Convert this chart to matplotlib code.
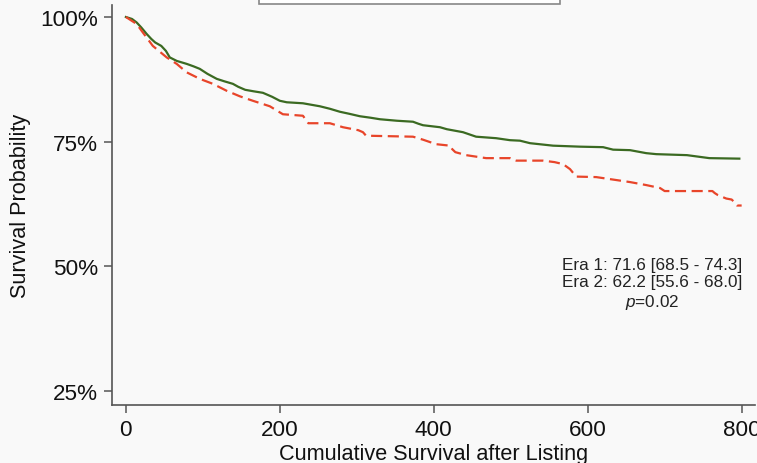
import matplotlib.pyplot as plt
from matplotlib.patches import Rectangle

plt.rcParams["font.family"] = ["Liberation Sans", "DejaVu Sans"]
plt.rcParams["mathtext.fontset"] = "custom"
plt.rcParams["mathtext.rm"] = "Liberation Sans"
plt.rcParams["mathtext.it"] = "Liberation Sans:italic"

# Kaplan-Meier curves (days, survival %)
era1_t = [0, 8, 14, 20, 27, 33, 38, 46, 52, 57, 66, 79, 88, 96, 106, 118, 128,
          139, 146, 155, 166, 178, 190, 200, 209, 230, 252, 265, 278, 290, 304,
          318, 330, 352, 373, 380, 386, 408, 417, 438, 455, 481, 499, 512, 525,
          555, 590, 620, 633, 655, 676, 689, 729, 758, 797]
era1_s = [100, 99.6, 98.9, 97.9, 96.6, 95.6, 94.9, 94.2, 93.2, 91.9, 91.2, 90.6,
          90.1, 89.6, 88.6, 87.6, 87.1, 86.6, 86.0, 85.4, 85.1, 84.8, 84.0, 83.2,
          82.9, 82.7, 82.1, 81.6, 81.0, 80.6, 80.1, 79.8, 79.5, 79.2, 79.0, 78.6,
          78.3, 77.9, 77.5, 76.9, 76.0, 75.7, 75.3, 75.2, 74.7, 74.2, 74.0, 73.9,
          73.4, 73.3, 72.7, 72.5, 72.3, 71.7, 71.6]

era2_t = [0, 14, 22, 35, 53, 66, 79, 96, 113, 131, 148, 165, 187, 204, 230, 237,
          265, 282, 302, 308, 312, 373, 386, 403, 421, 424, 428, 442, 468, 499,
          503, 507, 542, 557, 568, 577, 585, 611, 633, 655, 676, 694, 697, 700,
          762, 765, 769, 780, 787, 791, 794, 800]
era2_s = [100, 98.6, 96.9, 94.2, 91.9, 90.6, 88.9, 87.6, 86.6, 85.2, 84.1, 83.2,
          82.1, 80.5, 80.2, 78.7, 78.7, 77.9, 77.3, 76.9, 76.2, 76.0, 75.4, 74.5,
          74.2, 73.5, 72.9, 72.3, 71.7, 71.7, 71.4, 71.2, 71.2, 70.9, 70.5, 69.5,
          68.0, 67.9, 67.4, 66.9, 66.3, 65.7, 65.4, 65.1, 65.1, 64.7, 64.3, 63.6,
          63.4, 62.8, 62.2, 62.2]

y_ticks = [25, 50, 75, 100]
x_ticks = [0, 200, 400, 600, 800]
note = "Era 1: 71.6 [68.5 - 74.3]\nEra 2: 62.2 [55.6 - 68.0]\n$p$=0.02"

bg = "#f9f9f9"
fig = plt.figure(figsize=(7.57, 4.64), dpi=100, facecolor=bg)
ax = fig.add_axes([0.148, 0.125, 0.849, 0.862], facecolor=bg)

ax.plot(era1_t, era1_s, color="#3b6a22", lw=1.6)
ax.plot(era2_t, era2_s, color="#e8452a", lw=1.6, dashes=(5, 2.5))

ax.set_xlim(-18, 817)
ax.set_ylim(22.2, 102.4)
ax.set_xticks(x_ticks)
ax.set_yticks(y_ticks)
ax.set_yticklabels([f"{v}%" for v in y_ticks])
for side in ("top", "right"):
    ax.spines[side].set_visible(False)
for side in ("left", "bottom"):
    ax.spines[side].set_color("#555555")
    ax.spines[side].set_linewidth(1.2)
ax.tick_params(length=6, width=1.1, color="#555555", labelsize=16.2,
               labelcolor="#111111", pad=4)

ax.set_xlabel("Cumulative Survival after Listing", fontsize=15.6,
              color="#111111", labelpad=2)
ax.set_ylabel("Survival Probability", fontsize=15.6, color="#111111",
              labelpad=7)

ax.text(742 / 757, 1 - 285 / 464, note, transform=fig.transFigure, ha="right",
        va="center", multialignment="center", fontsize=12.3, color="#222222",
        linespacing=1.2)

# remains of the legend box cut off at the top of the picture
fig.patches.append(Rectangle((259 / 757, 1 - 5 / 464), 301 / 757, 0.05,
                             transform=fig.transFigure, facecolor="white",
                             edgecolor="#888888", lw=1.2))

fig.savefig("out.png", dpi=100, facecolor=bg)
